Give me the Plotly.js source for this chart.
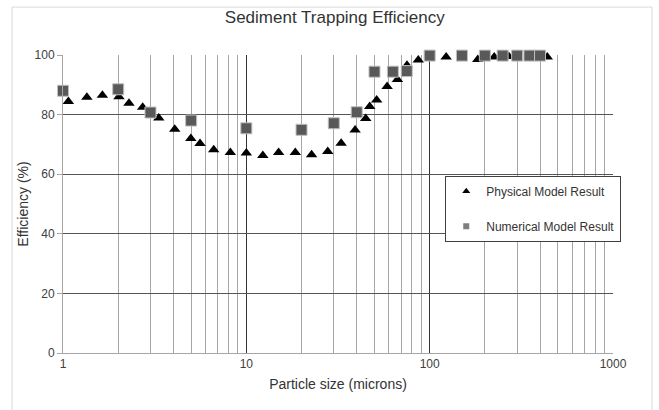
<!DOCTYPE html>
<html>
<head>
<meta charset="utf-8">
<script src="https://cdn.plot.ly/plotly-3.0.1.min.js"></script>
<style>html,body{margin:0;padding:0;background:#fff;}#chart{width:659px;height:410px;}</style>
</head>
<body>
<div id="chart"></div>
<script>
// Physical model result (particle size in microns, efficiency %)
var physSize = [1.07, 1.35, 1.64, 2.02, 2.29, 2.72, 3.33, 4.07, 4.98, 5.59, 6.64, 8.18, 10.0, 12.3, 15.0, 18.5, 22.7, 27.8, 32.9, 39.2, 44.8, 47.1, 51.4, 58.6, 66.7, 75.2, 86.7, 123, 183, 225, 270, 438];
var physEff  = [84.4, 85.8, 86.5, 86.0, 83.8, 82.5, 78.9, 75.1, 72.0, 70.3, 68.2, 67.3, 67.1, 66.3, 67.3, 67.3, 66.5, 67.6, 70.4, 74.8, 78.7, 82.7, 84.9, 89.4, 91.8, 96.6, 98.3, 99.3, 98.5, 99.3, 99.5, 99.3];
// Numerical model result
var numSize = [1, 2, 3, 5, 10, 20, 30, 40, 50, 63, 75, 100, 150, 200, 250, 300, 350, 400];
var numEff  = [88.0, 88.5, 80.7, 78.0, 75.4, 74.9, 77.1, 80.8, 94.4, 94.4, 94.6, 99.8, 99.8, 99.8, 99.8, 99.8, 99.8, 99.8];
var seriesNames = ['Physical Model Result', 'Numerical Model Result'];
var xTicks = [1, 10, 100, 1000];
var xTickText = ['1', '10', '100', '1000'];
var yTicks = [0, 20, 40, 60, 80, 100];

var physMarker = {symbol: 'triangle-up', size: 10, color: '#000000'};
var numMarker = {symbol: 'square', size: 11, color: '#595959', line: {color: '#bfbfbf', width: 1}};

var traces = [
  {x: physSize, y: physEff, type: 'scatter', mode: 'markers', name: seriesNames[0],
   showlegend: false, cliponaxis: false, marker: physMarker},
  {x: numSize, y: numEff, type: 'scatter', mode: 'markers', name: seriesNames[1],
   showlegend: false, cliponaxis: false, marker: numMarker},
  // legend entries (smaller symbols, as in the reference legend)
  {x: [null], y: [null], type: 'scatter', mode: 'markers', name: seriesNames[0], legendgroup: 'a',
   marker: {symbol: 'triangle-up', size: 7, color: '#000000'}},
  {x: [null], y: [null], type: 'scatter', mode: 'markers', name: seriesNames[1], legendgroup: 'b',
   marker: {symbol: 'square', size: 6, color: '#7f7f7f'}}
];

var layout = {
  width: 659, height: 410,
  margin: {l: 63, r: 45.5, t: 55, b: 56.5},
  paper_bgcolor: '#ffffff', plot_bgcolor: '#ffffff',
  font: {family: 'Liberation Sans, Arial, sans-serif', color: '#404040', size: 12},
  title: {text: 'Sediment Trapping Efficiency', x: 0.508, xref: 'container', y: 0.958, yanchor: 'middle',
          font: {size: 17, color: '#333333'}},
  xaxis: {
    type: 'log', range: [0, 3],
    tickvals: xTicks, ticktext: xTickText,
    showgrid: true, gridcolor: '#333333', gridwidth: 1,
    minor: {dtick: 'D1', showgrid: true, gridcolor: '#a6a6a6', gridwidth: 1, ticks: ''},
    showline: true, linecolor: '#a6a6a6', linewidth: 1,
    ticks: '', zeroline: false,
    tickfont: {size: 12, color: '#404040'},
    title: {text: 'Particle size (microns)', font: {size: 14, color: '#333333'}, standoff: 8}
  },
  yaxis: {
    range: [0, 100], tickvals: yTicks,
    showgrid: true, gridcolor: '#555555', gridwidth: 1,
    showline: true, linecolor: '#a6a6a6', linewidth: 1,
    ticks: 'outside', ticklen: 5, tickcolor: '#a6a6a6',
    zeroline: false,
    tickfont: {size: 12, color: '#404040'},
    title: {text: 'Efficiency (%)', font: {size: 14, color: '#333333'}, standoff: 2}
  },
  legend: {
    x: 0.695, y: 0.595, xanchor: 'left', yanchor: 'top',
    bgcolor: '#ffffff', bordercolor: '#404040', borderwidth: 1,
    font: {size: 12, color: '#333333'},
    traceorder: 'grouped', tracegroupgap: 16,
    itemwidth: 30
  },
  shapes: [
    {type: 'rect', xref: 'paper', yref: 'paper', x0: -0.0926, x1: 1.0708, y0: -0.196, y1: 1.1608,
     line: {color: '#d9d9d9', width: 1}, layer: 'below'}
  ],
  showlegend: true
};

Plotly.newPlot('chart', traces, layout, {displayModeBar: false, staticPlot: true});
</script>
</body>
</html>
